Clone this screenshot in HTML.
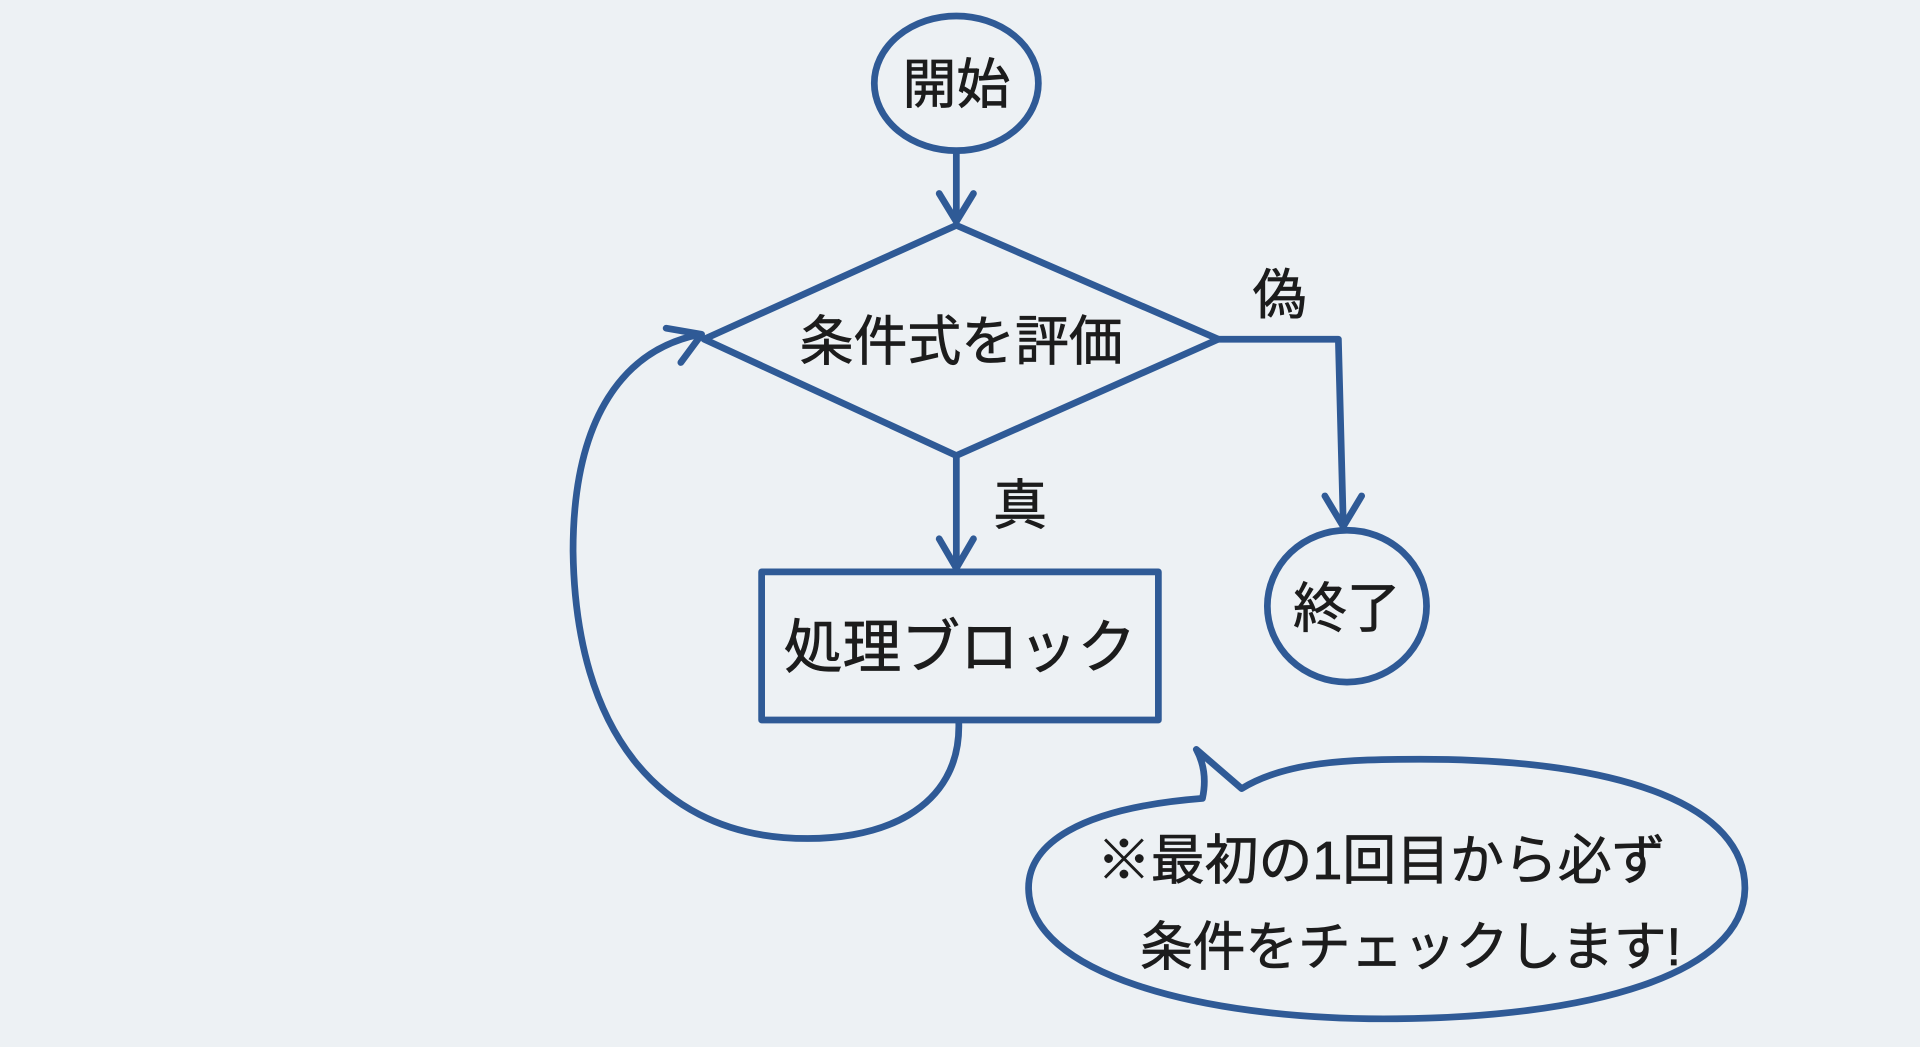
<!DOCTYPE html>
<html><head><meta charset="utf-8"><style>
html,body{margin:0;padding:0;background:#edf1f4;}
svg{display:block}
text{font-family:"Liberation Sans","Noto Sans CJK JP",sans-serif;fill:#1c1c1c;}
</style></head><body>
<svg width="1920" height="1047" viewBox="0 0 1568 855" xmlns="http://www.w3.org/2000/svg">
<rect width="1568" height="855" fill="#edf1f4"/>
<g fill="none" stroke="#2f5a96" stroke-width="5.5" stroke-linecap="round" stroke-linejoin="round">
<ellipse cx="781" cy="68" rx="67" ry="55"/>
<line x1="781" y1="124" x2="781" y2="180"/>
<polyline points="767,158 781,181 795,158"/>
<polygon points="781,184 995,277 781,372 575,277"/>
<polyline points="995,277 1093,277 1097,428"/>
<polyline points="1082,405 1097,430 1112,405"/>
<ellipse cx="1100" cy="495" rx="65" ry="62"/>
<line x1="781" y1="372" x2="781" y2="462"/>
<polyline points="767,440 781,464 795,440"/>
<rect x="622" y="467" width="324" height="121"/>
<path d="M783,590 C785,660 720,690 640,684 C540,676 470,600 468,450 C468,340 510,285 572,273"/>
<polyline points="544,268 573,273 556,296"/>
<path d="M982,652 C880,660 840,690 840,725 C840,795 980,832 1130,832 C1300,832 1425,795 1425,725 C1425,660 1330,620 1160,620 C1100,620 1050,622 1014,644 L977,612 C984,625 985,638 982,652"/>
</g>
<g font-size="44" text-anchor="middle" stroke="#1c1c1c" stroke-width="0.6">
<text x="781" y="84">開始</text>
<text x="785" y="294">条件式を評価</text>
<text x="1045" y="256">偽</text>
<text x="1100" y="512">終了</text>
<text x="833" y="428">真</text>
<text x="784" y="545" font-size="48">処理ブロック</text>
<text x="1128" y="718">※最初の1回目から必ず</text>
<text x="1152" y="788" font-size="43">条件をチェックします!</text>
</g>
</svg>
</body></html>
